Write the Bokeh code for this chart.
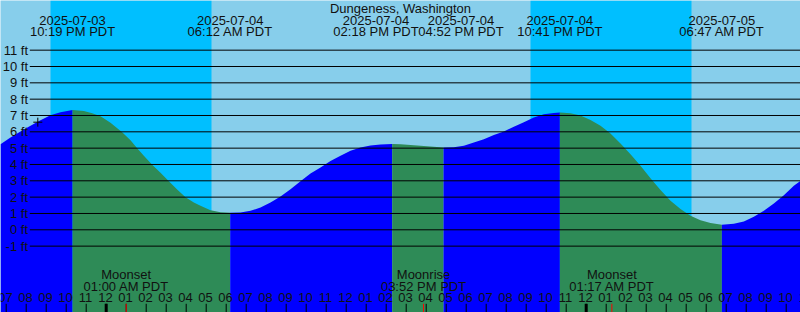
from bokeh.plotting import figure
from bokeh.models import Range1d
from bokeh.embed import file_html
from bokeh.resources import INLINE
from bokeh.core.properties import value

# ---------------- data (hours counted from 2025-07-03 00:00 PDT) ----------------
title = "Dungeness, Washington"

times = [18.715, 19.215, 19.715, 20.215, 20.715, 21.215, 21.715, 22.317, 22.882, 23.298,
         23.715, 24.215, 24.798, 25.215, 25.548, 25.882, 26.298, 26.715, 27.132, 27.548,
         27.965, 28.382, 28.715, 29.215, 29.715, 30.2, 30.715, 31.215, 31.715, 32.215,
         32.715, 33.215, 33.715, 34.215, 34.715, 35.215, 35.715, 36.215, 36.715, 37.215,
         37.715, 38.3, 38.715, 39.715, 40.867, 41.382, 41.882, 42.382, 42.882, 43.382,
         43.882, 44.382, 44.882, 45.382, 45.882, 46.382, 46.683, 47.215, 47.715, 48.215,
         48.715, 49.215, 49.715, 50.215, 50.715, 51.215, 51.715, 52.215, 52.715, 53.215,
         53.715, 54.215, 54.783, 55.382, 55.882, 56.382, 56.882, 57.382, 57.882, 58.382,
         58.715]
heights = [5.24, 5.65, 6.02, 6.37, 6.71, 7.02, 7.2, 7.33, 7.27, 7.14,
           6.96, 6.55, 5.98, 5.49, 5.0, 4.53, 3.98, 3.49, 2.98, 2.47,
           2.0, 1.67, 1.47, 1.2, 1.08, 1.05, 1.06, 1.16, 1.37, 1.67,
           2.04, 2.49, 2.98, 3.45, 3.82, 4.22, 4.53, 4.84, 5.04, 5.16,
           5.22, 5.25, 5.24, 5.14, 5.04, 5.06, 5.14, 5.35, 5.55, 5.8,
           6.02, 6.31, 6.59, 6.88, 7.08, 7.16, 7.18, 7.14, 7.0, 6.73,
           6.37, 5.9, 5.29, 4.63, 3.92, 3.16, 2.43, 1.78, 1.27, 0.86,
           0.59, 0.41, 0.31, 0.37, 0.51, 0.8, 1.16, 1.61, 2.12, 2.69,
           3.0]

event_times = [22.317, 30.2, 38.3, 40.867, 46.683, 54.783]
event_label_pos = [22.317, 30.2, 37.49, 41.74, 46.683, 54.783]
event_dates = ["2025-07-03", "2025-07-04", "2025-07-04", "2025-07-04", "2025-07-04", "2025-07-05"]
event_clock = ["10:19 PM PDT", "06:12 AM PDT", "02:18 PM PDT", "04:52 PM PDT", "10:41 PM PDT", "06:47 AM PDT"]

night_start = [21.215, 45.215]
night_end = [29.265, 53.265]

moon_times = [25.0, 39.867, 49.283]
moon_names = ["Moonset", "Moonrise", "Moonset"]
moon_clock = ["01:00 AM PDT", "03:52 PM PDT", "01:17 AM PDT"]

ft_levels = [-1, 0, 1, 2, 3, 4, 5, 6, 7, 8, 9, 10, 11]
ft_labels = ["-1 ft", "0 ft", "1 ft", "2 ft", "3 ft", "4 ft", "5 ft", "6 ft", "7 ft", "8 ft", "9 ft", "10 ft", "11 ft"]

hour_ticks = list(range(18, 60))
hour_labels = ["%02d" % (((h % 12) + 11) % 12 + 1) for h in hour_ticks]
midnights = [24, 48]

marker_time = [20.58]
marker_height = [6.59]

# ---------------- layout helpers ----------------
W, H = 800, 312
X0, X1 = 18.715, 58.715
PX_PER_FT = 16.33
ZERO_PX = 229.3
Y0 = (ZERO_PX - H) / PX_PER_FT
Y1 = ZERO_PX / PX_PER_FT


def ypx(px):
    return (ZERO_PX - px) / PX_PER_FT


def xpx(px):
    return X0 + px / 20.0


DAY = "#87CEEB"
NIGHT = "#00BFFF"
FLOOD = "#0000FF"
EBB = "#2E8B57"
FONT = value("Liberation Sans")
FS = "13px"
TXT = "#111111"

p = figure(width=W, height=H, output_backend="svg", toolbar_location=None,
           x_range=Range1d(X0, X1), y_range=Range1d(Y0, Y1),
           x_axis_location=None, y_axis_location=None, min_border=0)
p.outline_line_color = None
p.grid.visible = False
p.background_fill_color = DAY
p.border_fill_color = DAY

# night bands
p.quad(left=night_start, right=night_end, bottom=Y0, top=Y1,
       fill_color=NIGHT, line_color=None)

# tide fill, split at the high/low events: rising = blue, falling = green
cuts = [0] + [times.index(t) for t in event_times] + [len(times) - 1]
for k in range(len(cuts) - 1):
    a, b = cuts[k], cuts[k + 1]
    xs = times[a:b + 1]
    ys = heights[a:b + 1]
    rising = ys[-1] > ys[0]
    p.varea(x=xs, y1=[Y0] * len(xs), y2=ys, fill_color=FLOOD if rising else EBB)

# horizontal foot lines
p.segment(x0=[xpx(29.3)] * len(ft_levels), x1=[X1] * len(ft_levels),
          y0=ft_levels, y1=ft_levels, line_color="black", line_width=1)
p.text(x=[xpx(27.5)] * len(ft_levels), y=ft_levels, text=ft_labels,
       text_align="right", text_baseline="middle", text_font=FONT,
       text_font_size=FS, text_color=TXT)

# marker
p.scatter(x=marker_time, y=marker_height, marker="cross", size=9,
          line_color="black", line_width=1)

# title and event labels
p.text(x=[(X0 + X1) / 2], y=[ypx(7.5)], text=[title], text_align="center",
       text_baseline="middle", text_font=FONT, text_font_size=FS, text_color=TXT)
p.text(x=event_label_pos, y=[ypx(19.5)] * len(event_times), text=event_dates,
       text_align="center", text_baseline="middle", text_font=FONT,
       text_font_size=FS, text_color=TXT)
p.text(x=event_label_pos, y=[ypx(31.2)] * len(event_times), text=event_clock,
       text_align="center", text_baseline="middle", text_font=FONT,
       text_font_size=FS, text_color=TXT)

# moon labels
p.text(x=moon_times, y=[ypx(273.5)] * len(moon_times), text=moon_names,
       text_align="center", text_baseline="middle", text_font=FONT,
       text_font_size=FS, text_color=TXT)
p.text(x=moon_times, y=[ypx(285.5)] * len(moon_times), text=moon_clock,
       text_align="center", text_baseline="middle", text_font=FONT,
       text_font_size=FS, text_color=TXT)

# hour labels and ticks
p.text(x=[h - 0.035 for h in hour_ticks], y=[ypx(297)] * len(hour_ticks), text=hour_labels,
       text_align="center", text_baseline="middle", text_font=FONT,
       text_font_size=FS, text_color=TXT)
p.segment(x0=hour_ticks, x1=hour_ticks, y0=[ypx(303.3)] * len(hour_ticks),
          y1=[Y0] * len(hour_ticks), line_color="black", line_width=1)
p.segment(x0=midnights, x1=midnights, y0=[ypx(303.3)] * len(midnights),
          y1=[Y0] * len(midnights), line_color="black", line_width=3)
p.segment(x0=moon_times, x1=moon_times, y0=[ypx(303.3)] * len(moon_times),
          y1=[Y0] * len(moon_times), line_color="red", line_width=1)

open("out.html", "w").write(file_html(p, INLINE))
